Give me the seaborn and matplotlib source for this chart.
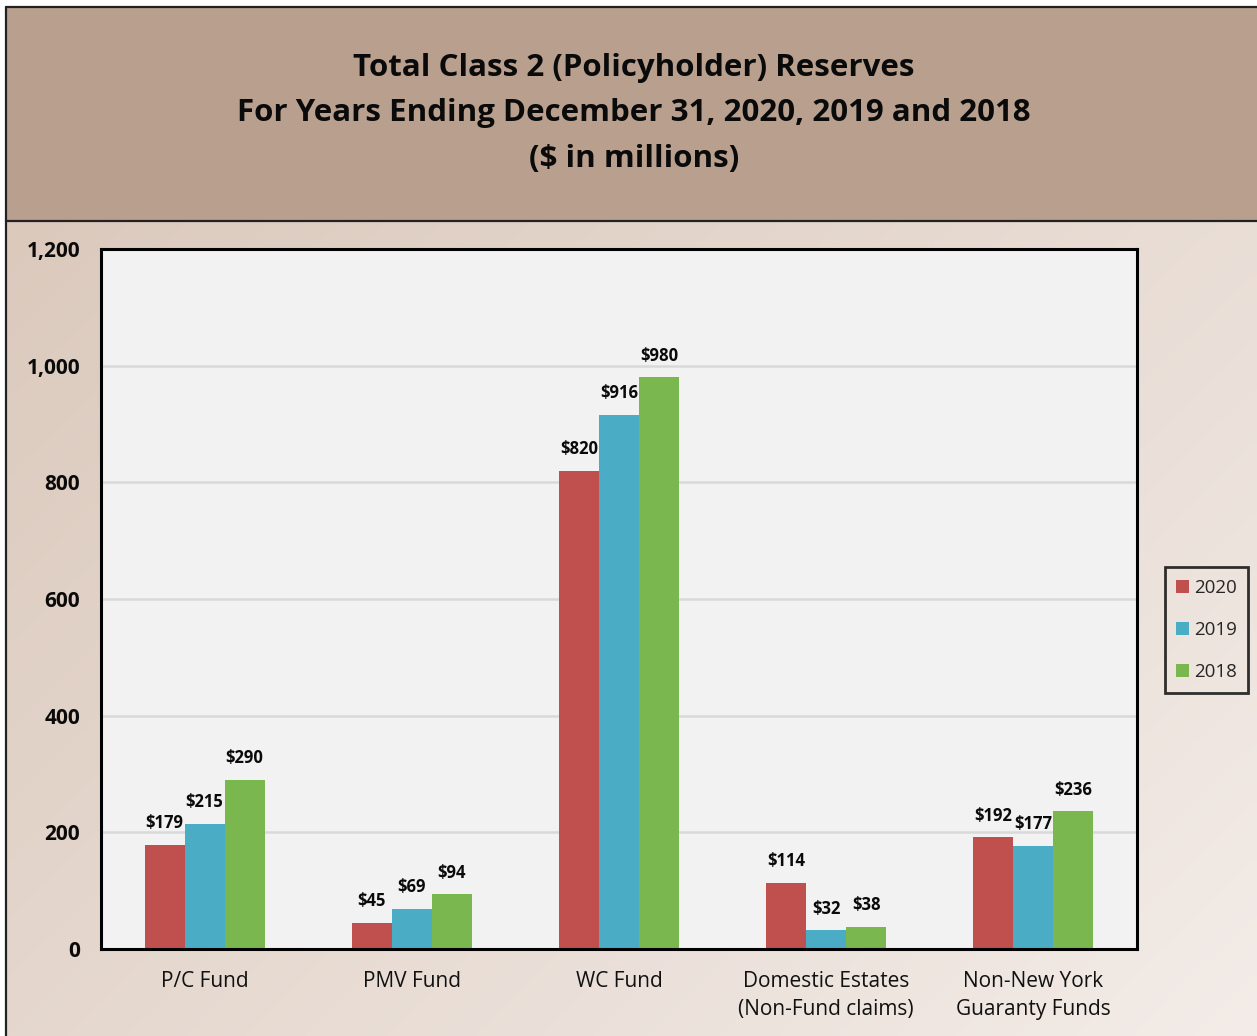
import numpy as np
import pandas as pd
import matplotlib
matplotlib.use("Agg")
import matplotlib.pyplot as plt
from matplotlib.patches import Rectangle
import seaborn as sns

categories = ["P/C Fund", "PMV Fund", "WC Fund", "Domestic Estates\n(Non-Fund claims)",
              "Non-New York\nGuaranty Funds"]
years = ["2020", "2019", "2018"]
values_2020 = [179, 45, 820, 114, 192]
values_2019 = [215, 69, 916, 32, 177]
values_2018 = [290, 94, 980, 38, 236]
y_ticks = [0, 200, 400, 600, 800, 1000, 1200]
title_lines = ["Total Class 2 (Policyholder) Reserves",
               "For Years Ending December 31, 2020, 2019 and 2018",
               "($ in millions)"]

colors = {"2020": "#c0504d", "2019": "#4bacc6", "2018": "#7ab74f"}

rows = []
for yr, vals in zip(years, [values_2020, values_2019, values_2018]):
    for c, v in zip(categories, vals):
        rows.append({"category": c, "year": yr, "value": v})
df = pd.DataFrame(rows)

sns.set_theme(style="white")
plt.rcParams["font.family"] = ["Open Sans", "DejaVu Sans"]

W, H = 1257, 1036
fig = plt.figure(figsize=(W / 100, H / 100), dpi=100)

# background layer in pixel coords
bg = fig.add_axes([0, 0, 1, 1], zorder=-10)
bg.set_xlim(0, W)
bg.set_ylim(H, 0)
bg.axis("off")
c0 = np.array([0xdb, 0xc9, 0xbc]) / 255
c1 = np.array([0xf3, 0xec, 0xe8]) / 255
gx = np.linspace(0, 1, 200)
gy = np.linspace(0, 1, 200)
GX, GY = np.meshgrid(gx, gy)
T = (GX * 0.6 + GY * 0.4)[..., None]
img = c0 * (1 - T) + c1 * T
bg.imshow(img, extent=(6, W, H, 221), aspect="auto", interpolation="bilinear")
bg.add_patch(Rectangle((6, 7), W - 6, 214, facecolor="#b9a08e", edgecolor="none"))
bg.plot([6, 6], [7, H], color="#222222", lw=1.6)
bg.plot([6, W], [7, 7], color="#222222", lw=1.6)
bg.plot([6, W], [221, 221], color="#222222", lw=1.6)
bg.set_xlim(0, W)
bg.set_ylim(H, 0)

for i, line in enumerate(title_lines):
    fig.text(634 / W, 1 - (68 + 45.5 * i) / H, line, ha="center", va="center",
             fontsize=22.5, fontweight="bold", color="#0a0a0a")

ax = fig.add_axes([101 / W, 87 / H, 1036 / W, 700 / H])
sns.barplot(data=df, x="category", y="value", hue="year", palette=colors,
            width=0.58, gap=0, saturation=1, ax=ax, legend=True, errorbar=None,
            linewidth=0, edgecolor="none")
ax.set_facecolor("#f2f2f2")
ax.set_xlim(-0.5, 4.5)
ax.set_ylim(0, 1200)
ax.set_yticks(y_ticks)
ax.set_yticklabels([f"{t:,}" for t in y_ticks], fontsize=15, fontweight="bold")
ax.tick_params(axis="y", length=0, pad=15)
ax.tick_params(axis="x", length=0, pad=16, labelsize=15)
for lbl in ax.get_xticklabels():
    lbl.set_color("#111111")
    lbl.set_linespacing(1.45)
for lbl in ax.get_yticklabels():
    lbl.set_color("#0a0a0a")
ax.set_xlabel("")
ax.set_ylabel("")
ax.yaxis.grid(True, color="#d9d9d9", lw=1.8)
ax.set_axisbelow(True)
for s in ax.spines.values():
    s.set_color("black")
    s.set_linewidth(2.2)

for cont, vals in zip(ax.containers, [values_2020, values_2019, values_2018]):
    ax.bar_label(cont, labels=[f"${v}" for v in vals], padding=9,
                 fontsize=12, fontweight="bold", color="#0a0a0a")

handles, labels = ax.get_legend_handles_labels()
ax.legend_.remove()
leg = fig.legend(handles, labels, loc="center left",
                 bbox_to_anchor=(1165 / W, 1 - 630 / H), frameon=True,
                 fancybox=False, edgecolor="black", facecolor="none",
                 fontsize=13.5, handlelength=0.7, handleheight=0.7,
                 handletextpad=0.25, labelspacing=1.3, borderpad=0.6,
                 borderaxespad=0)
leg.get_frame().set_linewidth(2)

fig.savefig("out.png", dpi=100)
